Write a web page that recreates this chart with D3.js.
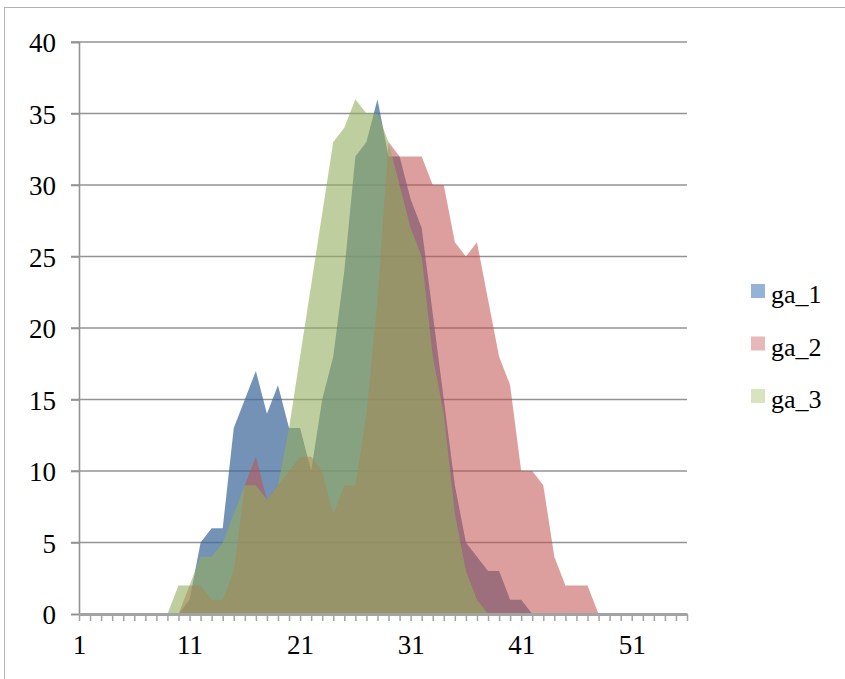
<!DOCTYPE html>
<html>
<head>
<meta charset="utf-8">
<script src="https://cdn.jsdelivr.net/npm/d3@7"></script>
<style>
  html, body { margin: 0; padding: 0; background: #fff; }
  svg { display: block; }
  text { font-family: "Liberation Serif", "DejaVu Serif", serif; fill: #000; }
</style>
</head>
<body>
<svg id="chart" width="845" height="679"></svg>
<script>
// Category positions 1..56 along the x axis
const categories = d3.range(1, 57);
const xTickLabels = [1, 11, 21, 31, 41, 51];
const yTicks = [0, 5, 10, 15, 20, 25, 30, 35, 40];

const seriesNames = ["ga_1", "ga_2", "ga_3"];

// counts per category (1..56)
const ga1 = [0,0,0,0,0,0,0,0,0,0, 1,5,6,6,13,15,17,14,16,13, 13,10,15,18,24,32,33,36,32,32,
             29,27,21,15,9,5,4,3,3,1, 1,0,0,0,0,0,0,0,0,0, 0,0,0,0,0,0];
const ga2 = [0,0,0,0,0,0,0,0,0,0, 2,2,1,1,3,9,11,8,9,10, 11,11,10,7,9,9,14,22,33,32,
             32,32,30,30,26,25,26,22,18,16, 10,10,9,4,2,2,2,0,0,0, 0,0,0,0,0,0];
const ga3 = [0,0,0,0,0,0,0,0,0,2, 2,4,4,5,7,9,9,8,9,13, 18,23,28,33,34,36,35,35,33,30,
             27,25,18,14,7,3,1,0,0,0, 0,0,0,0,0,0,0,0,0,0, 0,0,0,0,0,0];

const seriesValues = [ga1, ga2, ga3];
const seriesColors = ["#3F6898", "#C0504D", "#94AE5E"];
const areaOpacity = [0.72, 0.55, 0.6];
const legendColors = ["#95B3D7", "#E6B9B8", "#D7E4BD"];

const svg = d3.select("#chart");

// outer frame
svg.append("rect")
  .attr("x", 4.5).attr("y", 7.5)
  .attr("width", 900).attr("height", 700)
  .attr("fill", "none").attr("stroke", "#b3b3b3").attr("stroke-width", 1);

const plot = { left: 79, right: 687, top: 42, bottom: 614 };

const x = d3.scaleLinear().domain([1, 56]).range([plot.left, plot.right]);
const y = d3.scaleLinear().domain([0, 40]).range([plot.bottom, plot.top]);

// horizontal gridlines (with the y tick marks to their left)
svg.append("g")
  .selectAll("line")
  .data(yTicks.filter(d => d > 0))
  .join("line")
  .attr("x1", plot.left - 8).attr("x2", plot.right)
  .attr("y1", d => y(d)).attr("y2", d => y(d))
  .attr("stroke", "#939393").attr("stroke-width", 1.6);

// areas, drawn in series order so later series sit on top
const area = d3.area()
  .x((d, i) => x(categories[i]))
  .y0(y(0))
  .y1(d => y(d));

svg.append("g")
  .selectAll("path")
  .data(seriesValues)
  .join("path")
  .attr("d", d => area(d))
  .attr("fill", (d, i) => seriesColors[i])
  .attr("fill-opacity", (d, i) => areaOpacity[i]);

// y axis
const yAxis = d3.axisLeft(y).tickValues(yTicks).tickSize(8).tickPadding(15);
const yg = svg.append("g").attr("transform", `translate(${plot.left},0)`).call(yAxis);
yg.select(".domain").attr("stroke", "#939393").attr("stroke-width", 1.6);
yg.selectAll(".tick line").attr("stroke", "#939393").attr("stroke-width", 1.6);
yg.selectAll(".tick text").attr("font-size", 27).attr("font-family", "Liberation Serif").attr("dy", "0.36em");

// x axis: a tick at every category, labels every ten
const xAxis = d3.axisBottom(x)
  .tickValues(categories)
  .tickSize(7)
  .tickSizeOuter(0)
  .tickPadding(14)
  .tickFormat(d => xTickLabels.includes(d) ? d : "");
const xg = svg.append("g").attr("transform", `translate(0,${plot.bottom})`).call(xAxis);
xg.select(".domain").attr("stroke", "#a3a3a3").attr("stroke-width", 3);
xg.selectAll(".tick line").attr("stroke", "#a3a3a3").attr("stroke-width", 1.5);
xg.selectAll(".tick text").attr("font-size", 27).attr("font-family", "Liberation Serif");

// legend
const legend = svg.append("g").attr("transform", "translate(751,284)");
const items = legend.selectAll("g")
  .data(seriesNames)
  .join("g")
  .attr("transform", (d, i) => `translate(0,${i * 52.5})`);
items.append("rect")
  .attr("width", 14).attr("height", 14)
  .attr("fill", (d, i) => legendColors[i]);
items.append("text")
  .attr("x", 20).attr("y", 19)
  .attr("font-size", 26)
  .text(d => d);
</script>
</body>
</html>
